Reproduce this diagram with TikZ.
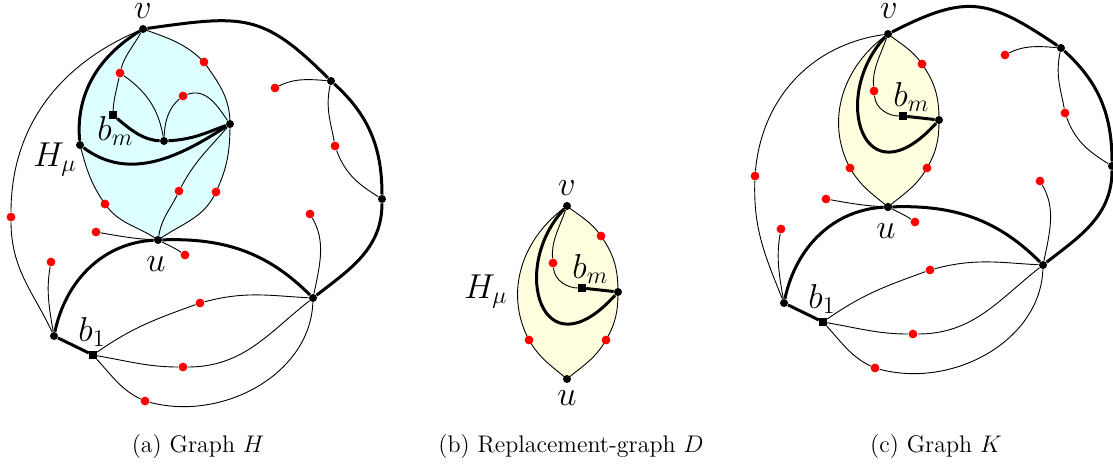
\documentclass[tikz,border=0pt]{standalone}
\usepackage{amsmath,amssymb}
\usepackage{xcolor}
\usepackage{tikz}
\usetikzlibrary{backgrounds}
\definecolor{HmuCyan}{HTML}{DDFFFF}
\definecolor{HmuYellow}{HTML}{FFFFE0}

\tikzset{
  vtx/.style={circle, fill=black, inner sep=0pt, minimum size=4pt},
  rdot/.style={circle, fill=red, inner sep=0pt, minimum size=4.4pt},
  sqr/.style={rectangle, fill=black, inner sep=0pt, minimum size=3.8pt},
  heavy/.style={line width=1.5pt},
  lite/.style={line width=0.45pt},
  lbl/.style={font=\LARGE, inner sep=0pt},
  captxt/.style={font=\large, anchor=base, inner sep=0pt},
  % the part of H and K outside the lens
  outergraph/.pic={
    \node[vtx] (-u) at (158,-240) {};
    \node[vtx] (-R1) at (331,-81) {};
    \node[vtx] (-R2) at (382,-199) {};
    \node[vtx] (-R3) at (313,-298) {};
    \node[vtx] (-A) at (54,-336) {};
    \node[sqr] (-b1) at (93,-355) {};
    \node[rdot] (-d4) at (275,-88) {};
    \node[rdot] (-d5) at (335,-146) {};
    \node[rdot] (-d10) at (310,-214) {};
    \node[rdot] (-d11) at (96,-232) {};
    \node[rdot] (-d12) at (185,-255) {};
    \node[rdot] (-d13) at (51,-262) {};
    \node[rdot] (-d14) at (200,-303) {};
    \node[rdot] (-d15) at (183,-367) {};
    \node[rdot] (-d16) at (145,-401) {};
    \node[lbl, anchor=base] (-ul) at (156,-271) {$u$};
    \node[lbl, anchor=base west] (-b1l) at (78,-341) {$b_1$};
    \draw[heavy] (-R1) to[out=-42,in=90] (-R2) to[out=-90,in=38] (-R3);
    \draw[heavy] (-A) to[out=78,in=183] (-u) to[out=2,in=135] (-R3);
    \draw[heavy] (-A) -- (-b1);
    \draw[lite] (-R1) to[out=175,in=27] (-d4);
    \draw[lite] (-R1) to[out=258,in=100] (-d5) to[out=-70,in=148] (-R2);
    \draw[lite] (-R3) to[out=78,in=-60] (-d10);
    \draw[lite] (-b1) to[out=35,in=200] (-d14) to[out=15,in=177] (-R3);
    \draw[lite] (-b1) to[out=-10,in=180] (-d15) to[out=0,in=218] (-R3);
    \draw[lite] (-b1) to[out=-48,in=155] (-d16) to[out=-15,in=-92] (-R3);
    \draw[lite] (-A) to[out=100,in=-100] (-d13);
    \draw[lite] (-d11) to[out=-10,in=177] (-u) to[out=-26,in=145] (-d12);
  },
  % replacement lens D
  lensD/.pic={
    \node[vtx] (-v) at (0,0) {};
    \node[vtx] (-u) at (0,-173) {};
    \node[vtx] (-w) at (51,-86) {};
    \node[sqr] (-bm) at (15,-82) {};
    \node[rdot] (-e1) at (34,-30) {};
    \node[rdot] (-e2) at (-14,-57) {};
    \node[rdot] (-e3) at (-38,-134) {};
    \node[rdot] (-e4) at (39,-134) {};
    \node[lbl, anchor=base west] (-bml) at (5,-72) {$b_m$};
    \begin{scope}[on background layer]
      \filldraw[lite, fill=HmuYellow] (-v.center) to[out=-38,in=125] (-e1.center)
        to[out=-55,in=90] (-w.center) to[out=-90,in=60] (-e4.center)
        to[out=240,in=40] (-u.center) to[out=140,in=-60] (-e3.center)
        to[out=118,in=215] (-v.center) -- cycle;
    \end{scope}
    \draw[heavy] (-v) .. controls (-58,-62) and (-25,-170) .. (-w);
    \draw[heavy] (-bm) -- (-w);
    \draw[lite] (-v) to[out=250,in=95] (-e2) to[out=275,in=180] (-bm);
  }
}

\begin{document}
\begin{tikzpicture}[x=0.5pt, y=0.5pt]
  \useasboundingbox (0,0) rectangle (1113,-468);

  % (a) graph H
  \pic (H) at (0,0) {outergraph};
  \begin{scope}[name prefix=H-]
    \node[vtx] (v) at (143,-29) {};
    \node[vtx] (L) at (80,-145) {};
    \node[vtx] (W) at (230,-124) {};
    \node[vtx] (C) at (164,-141) {};
    \node[sqr] (bm) at (113,-115) {};
    \node[rdot] (d1) at (204,-62) {};
    \node[rdot] (d2) at (120,-73) {};
    \node[rdot] (d3) at (183,-96) {};
    \node[rdot] (d6) at (179,-191) {};
    \node[rdot] (d7) at (216,-192) {};
    \node[rdot] (d8) at (105,-204) {};
    \node[rdot] (d9) at (11,-217) {};
    \node[lbl, anchor=base] (vl) at (143,-18) {$v$};
    \node[lbl, anchor=base west] (bml) at (97,-140) {$b_m$};
    \node[lbl, anchor=base west] (Hl) at (33,-166) {$H_\mu$};
    \begin{scope}[on background layer]
      \filldraw[lite, fill=HmuCyan] (v.center) to[out=-20,in=135] (d1.center)
        to[out=-55,in=90] (W.center) to[out=-90,in=65] (d7.center)
        to[out=245,in=35] (u.center) to[out=145,in=-55] (d8.center)
        to[out=125,in=-75] (L.center) to[out=95,in=212] (v.center) -- cycle;
    \end{scope}
    \draw[heavy] (v) to[out=8,in=135,looseness=1.3] (R1);
    \draw[heavy] (v) to[out=212,in=95] (L) to[out=-37,in=213] (W);
    \draw[heavy] (bm) to[out=-40,in=177] (C) to[out=3,in=200] (W);
    \draw[lite] (v) to[out=203,in=90] (d9) to[out=270,in=115] (A);
    \draw[lite] (v) to[out=240,in=75] (d2) to[out=258,in=88] (bm);
    \draw[lite] (d2) to[out=-35,in=100] (C);
    \draw[lite] (C) to[out=88,in=220] (d3) to[out=20,in=125] (W);
    \draw[lite] (u) to[out=80,in=245] (d6) to[out=62,in=230] (W);
  \end{scope}

  % (b) replacement-graph D
  \pic (D) at (567,-206) {lensD};
  \node[lbl, anchor=base] (D-vl) at (567,-195) {$v$};
  \node[lbl, anchor=base] (D-ul) at (567,-405) {$u$};
  \node[lbl, anchor=base west] (D-Hl) at (464,-298) {$H_\mu$};

  % (c) graph K
  \pic (K) at (730,33) {outergraph};
  \pic (Kl) at (888,-34) {lensD};
  \node[rdot] (K-d9) at (755,-176) {};
  \node[lbl, anchor=base] (K-vl) at (889,-18) {$v$};
  \draw[heavy] (Kl-v) to[out=27,in=146,looseness=1.3] (K-R1);
  \draw[lite] (Kl-v) to[out=188,in=85] (K-d9) to[out=268,in=112] (K-A);

  % captions
  \node[captxt] (capa) at (198,-452) {(a) Graph $H$};
  \node[captxt] (capb) at (571,-452) {(b) Replacement-graph $D$};
  \node[captxt] (capc) at (936,-452) {(c) Graph $K$};
\end{tikzpicture}
\end{document}
